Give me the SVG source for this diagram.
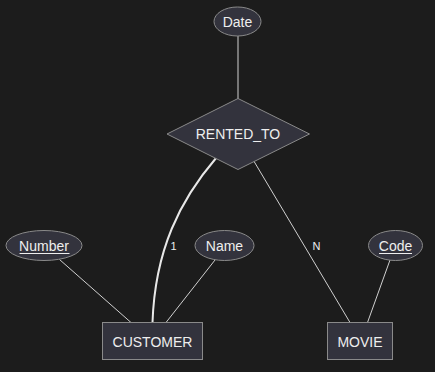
<svg xmlns="http://www.w3.org/2000/svg" width="435" height="372" viewBox="0 0 435 372">
<style>
.bg{fill:#1c1c1c}
.shape{fill:#33333d;stroke:#8a8a8a;stroke-width:1}
.txt{font-family:"Liberation Sans",Arial,sans-serif;font-size:14px;fill:#eeeeee;text-anchor:middle;dominant-baseline:central}
.lbl{font-family:"Liberation Sans",Arial,sans-serif;font-size:11px;fill:#eeeeee;text-anchor:middle;dominant-baseline:central}
.edge{fill:none;stroke:#d0d0d0;stroke-width:1}
.thick{fill:none;stroke:#e8e8e8;stroke-width:2}
.ul{stroke:#eeeeee;stroke-width:1}
</style>
<rect class="bg" x="0" y="0" width="435" height="372"/>
<g id="connectors">
<line class="edge" x1="238" y1="36" x2="238" y2="99"/>
<path class="thick" d="M216.5,157.5 C180,200 155,250 152.5,322.5"/>
<line class="edge" x1="253.5" y1="160.5" x2="350" y2="322.5"/>
<line class="edge" x1="59.5" y1="259.5" x2="131" y2="322.5"/>
<line class="edge" x1="215" y1="260" x2="166" y2="322.5"/>
<line class="edge" x1="390" y1="260" x2="367.5" y2="322.5"/>
<text class="lbl" x="173.5" y="246">1</text>
<text class="lbl" x="316.5" y="246">N</text>
</g>
<g id="Date">
<ellipse class="shape" cx="237.5" cy="21.5" rx="23.5" ry="14.5"/>
<text class="txt" x="237.5" y="21.5">Date</text>
</g>
<g id="RENTED_TO">
<polygon class="shape" points="238,98.5 309.5,134 238,169.5 167,134"/>
<text class="txt" x="238" y="134">RENTED_TO</text>
</g>
<g id="Number">
<ellipse class="shape" cx="44" cy="245.5" rx="38" ry="15"/>
<text class="txt" x="44" y="245.5">Number</text>
<line class="ul" x1="19.5" y1="253.5" x2="69.5" y2="253.5"/>
</g>
<g id="Name">
<ellipse class="shape" cx="224.5" cy="245.5" rx="29.5" ry="15"/>
<text class="txt" x="224.5" y="245.5">Name</text>
</g>
<g id="Code">
<ellipse class="shape" cx="395.5" cy="245.5" rx="27" ry="15"/>
<text class="txt" x="395.5" y="245.5">Code</text>
<line class="ul" x1="379" y1="253.5" x2="412" y2="253.5"/>
</g>
<g id="CUSTOMER">
<rect class="shape" x="102.5" y="322.5" width="100" height="37"/>
<text class="txt" x="152.5" y="342">CUSTOMER</text>
</g>
<g id="MOVIE">
<rect class="shape" x="327.5" y="322.5" width="65" height="37"/>
<text class="txt" x="360" y="342">MOVIE</text>
</g>
</svg>
